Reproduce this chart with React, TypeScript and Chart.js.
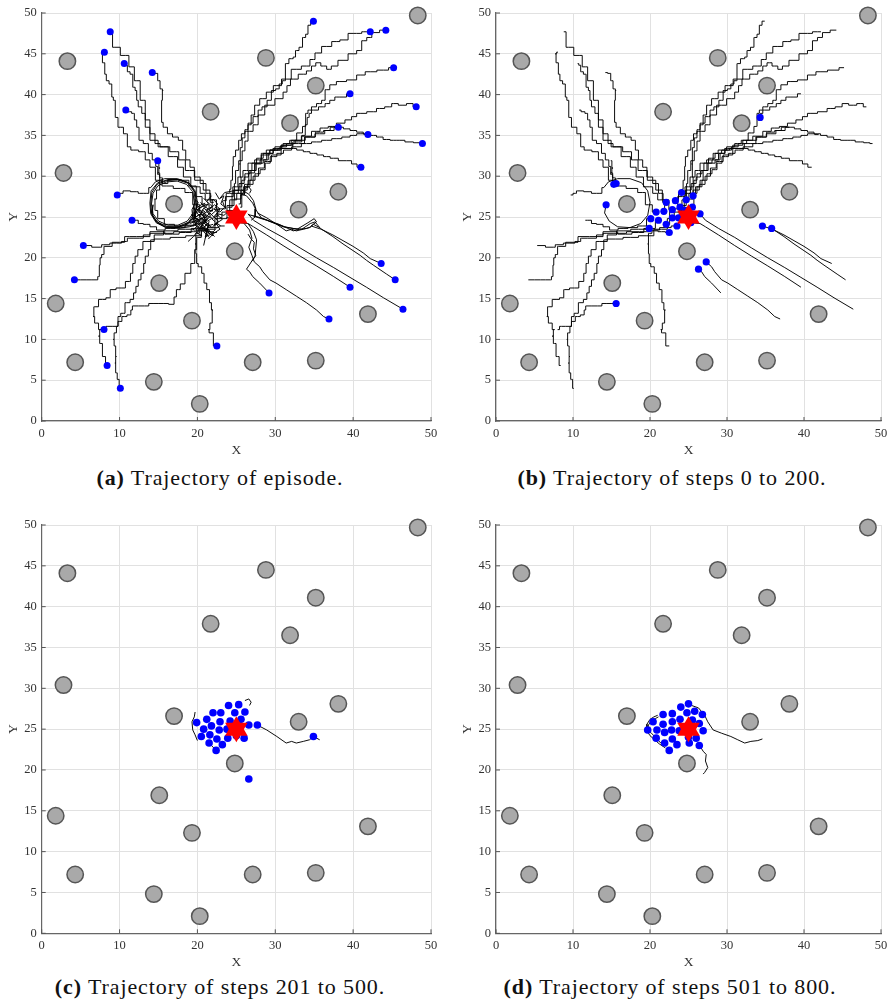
import React, { useEffect, useRef } from 'react';
import { Chart, registerables } from 'chart.js';

Chart.register(...registerables);

type Pt = [number, number];

// ---------- data ----------
const xTickValues = [0, 10, 20, 30, 40, 50];
const yTickValues = [0, 5, 10, 15, 20, 25, 30, 35, 40, 45, 50];
const goal: Pt = [25, 25];

const obstacles: Pt[] = [
  [48.3, 49.7], [3.3, 44.1], [28.8, 44.5], [21.7, 37.9], [35.2, 41.1], [31.9, 36.5],
  [2.8, 30.4], [38.1, 28.1], [17.0, 26.6], [33.0, 25.9], [24.8, 20.8], [15.1, 16.9],
  [1.8, 14.4], [19.3, 12.3], [41.9, 13.1], [4.3, 7.2], [27.1, 7.2], [35.2, 7.4],
  [14.4, 4.8], [20.3, 2.1],
];

const dotsStep0: Pt[] = [
  [8.8, 47.7], [8.05, 45.2], [10.6, 43.8], [14.2, 42.7], [10.8, 38.1], [14.9, 31.9],
  [9.7, 27.7], [11.6, 24.6], [5.35, 21.5], [34.9, 49.0], [42.2, 47.7], [44.2, 47.9],
  [45.2, 43.3], [39.6, 40.1], [48.1, 38.5], [38.1, 36.0], [41.9, 35.1], [48.9, 34.0],
  [41.0, 31.1], [4.2, 17.3], [8.0, 11.2], [8.4, 6.8], [10.1, 4.0], [22.5, 9.2],
  [29.2, 15.7], [36.9, 12.5], [39.6, 16.4], [43.6, 19.3], [45.4, 17.3], [46.4, 13.7],
];

const dotsStep200: Pt[] = [
  [34.3, 37.2], [15.3, 29.0], [15.6, 29.1], [14.3, 26.5], [34.6, 23.9], [35.8, 23.6],
  [27.3, 19.5], [26.3, 18.6], [15.6, 14.4],
  [22.1, 26.8], [23.3, 27.0], [24.1, 28.0], [24.7, 27.1], [25.6, 27.6], [23.9, 26.2],
  [25.5, 26.2], [20.8, 25.6], [21.8, 25.7], [22.9, 25.9], [22.9, 24.9], [23.7, 24.9],
  [20.1, 24.8], [21.1, 24.6], [26.5, 25.4], [19.9, 23.6], [22.1, 24.1], [23.5, 23.9],
  [22.5, 23.1], [25.3, 24.3], [24.6, 25.8],
];

const dotsStep500: Pt[] = [
  [24.0, 27.9], [25.3, 28.0], [22.0, 27.0], [23.0, 27.0], [24.8, 27.0], [26.1, 27.1],
  [19.9, 25.8], [21.2, 26.2], [22.9, 25.9], [24.2, 26.0], [25.6, 26.2], [26.6, 25.5],
  [27.7, 25.5], [20.8, 25.0], [21.8, 25.4], [22.8, 24.9], [23.8, 25.0], [20.5, 24.1],
  [21.6, 24.3], [22.5, 23.8], [23.9, 23.9], [26.0, 23.9], [21.5, 23.3], [23.2, 23.1],
  [22.4, 22.4], [34.9, 24.1], [26.6, 18.9], [25.0, 24.2], [25.2, 25.6],
];

const dotsStep800: Pt[] = [
  [25.0, 28.1], [24.0, 27.7], [21.7, 26.8], [22.9, 26.9], [24.8, 27.0], [25.8, 27.2],
  [26.8, 26.8], [20.4, 25.9], [21.7, 25.6], [22.9, 25.9], [23.9, 26.2], [25.5, 26.1],
  [26.4, 25.7], [19.7, 24.9], [20.9, 24.9], [21.9, 24.6], [22.8, 24.9], [23.8, 24.8],
  [26.9, 24.8], [20.8, 23.9], [21.9, 23.3], [22.9, 23.8], [23.5, 23.1], [25.1, 23.3],
  [26.0, 23.9], [26.4, 23.0], [22.5, 22.4], [24.8, 25.0], [25.0, 24.0],
];

// steps 0-200: staircase-like paths
const pathsStairs0to200: Pt[][] = [
  [[8.8, 47.7], [9.4, 45.8], [10.8, 44.8], [11.6, 43.4], [12.2, 41.7], [13.1, 39.3], [13.5, 36.9], [14.3, 34.4], [15.6, 33.6], [16.9, 32.4], [18.0, 31.1], [18.4, 29.9], [19.9, 28.7], [20.8, 27.9], [21.2, 27.1], [22.1, 26.8]],
  [[8.05, 45.2], [7.7, 45.0], [7.9, 43.9], [8.3, 42.5], [8.3, 41.7], [9.0, 41.3], [9.0, 39.7], [9.4, 39.3], [9.5, 37.2], [10.1, 36.0], [10.9, 35.2], [11.1, 33.6], [11.8, 33.2], [13.1, 33.0], [13.5, 32.0], [14.3, 31.1], [14.9, 29.5], [16.0, 28.8], [17.8, 28.5], [19.0, 28.0], [19.8, 26.5], [20.8, 25.6]],
  [[10.6, 43.8], [10.9, 43.6], [11.1, 42.8], [11.6, 42.5], [11.8, 40.9], [12.2, 40.5], [12.2, 39.3], [12.6, 38.5], [13.1, 37.7], [13.5, 36.0], [14.3, 35.2], [14.8, 34.0], [15.6, 33.6], [17.3, 33.0], [17.9, 32.0], [19.0, 30.7], [20.3, 29.5], [21.2, 28.3], [22.0, 27.1], [21.8, 25.7]],
  [[14.2, 42.7], [14.8, 42.6], [15.0, 41.7], [15.4, 40.7], [15.6, 40.5], [15.4, 39.3], [15.4, 36.6], [15.8, 36.0], [16.5, 35.2], [17.1, 34.8], [18.0, 34.4], [18.2, 33.2], [18.8, 32.0], [19.3, 31.1], [19.9, 29.9], [20.8, 29.1], [21.4, 27.9], [22.0, 27.1], [22.9, 25.9]],
  [[10.8, 38.1], [11.3, 37.9], [11.8, 37.7], [12.0, 36.9], [12.4, 36.0], [12.6, 34.4], [13.5, 34.0], [13.9, 32.8], [14.5, 32.0], [14.8, 31.2], [15.0, 30.2], [15.3, 29.0]],
  [[14.9, 31.9], [15.2, 31.0], [14.9, 30.4], [15.4, 29.8], [15.6, 29.1]],
  [[9.7, 27.7], [10.3, 27.9], [10.6, 28.2], [12.2, 28.1], [12.6, 27.9], [13.5, 27.9], [14.0, 28.6]],
  [[11.6, 24.6], [12.2, 24.6], [12.6, 24.2], [13.5, 24.1], [14.3, 23.8], [15.2, 23.4], [16.5, 23.6], [17.8, 23.7], [19.0, 23.9], [20.1, 24.8]],
  [[5.35, 21.5], [7.5, 21.3], [7.9, 21.6], [9.6, 21.8], [10.9, 22.0], [11.1, 22.4], [12.6, 22.4], [13.5, 22.8], [14.3, 23.0], [16.1, 23.0], [17.8, 23.2], [19.5, 23.2], [20.3, 23.6], [21.1, 24.6]],
  [[4.2, 17.3], [5.8, 17.3], [7.1, 17.3], [7.3, 17.7], [7.5, 19.1], [7.5, 20.0], [7.9, 20.4], [8.1, 21.4], [10.0, 21.9], [11.3, 22.6], [13.0, 22.6], [14.8, 23.2], [16.8, 22.9], [18.5, 23.1], [19.9, 23.6]],
  [[8.0, 11.2], [8.5, 11.6], [9.6, 11.6], [10.0, 12.2], [10.6, 12.8], [11.3, 13.0], [11.6, 13.6], [11.7, 14.1], [13.2, 14.1], [14.3, 14.4], [15.6, 14.4]],
  [[8.4, 6.8], [8.0, 7.9], [7.6, 9.5], [7.3, 10.4], [7.6, 11.2], [7.0, 12.0], [6.6, 12.8], [6.8, 14.0], [7.8, 14.9], [8.7, 15.1], [8.9, 16.1], [10.2, 16.3], [11.3, 17.1], [11.5, 18.1], [11.9, 19.3], [12.1, 20.2], [12.6, 21.0], [13.4, 22.0], [15.5, 22.3], [17.5, 22.5], [19.5, 22.7], [21.5, 23.5], [23.0, 24.8], [24.6, 25.8]],
  [[10.1, 4.0], [9.8, 5.1], [9.6, 5.9], [9.4, 7.1], [9.6, 7.9], [9.4, 9.2], [9.2, 10.0], [9.4, 10.8], [9.8, 11.6], [9.8, 12.8], [10.5, 13.2], [10.9, 14.5], [11.8, 14.9], [11.8, 15.7], [12.4, 16.5], [12.4, 17.3], [13.1, 18.1], [13.1, 19.3], [13.5, 20.2], [13.9, 21.0], [14.1, 22.2], [14.8, 22.8], [16.5, 23.3], [18.5, 23.5], [20.5, 23.4], [22.0, 23.7], [23.5, 23.9]],
  [[22.5, 9.2], [21.6, 10.8], [21.4, 11.2], [21.8, 12.0], [22.0, 13.6], [21.6, 14.5], [21.5, 16.1], [20.9, 16.9], [20.8, 18.1], [20.3, 18.9], [19.9, 19.3], [19.9, 20.5], [19.7, 21.7], [19.9, 23.0], [20.6, 23.3], [21.5, 23.2], [22.5, 23.1]],
  [[34.9, 49.0], [34.2, 48.5], [34.2, 47.4], [33.6, 47.0], [33.4, 45.8], [32.7, 45.4], [32.5, 44.6], [32.1, 44.4], [31.4, 43.8], [31.2, 41.7], [30.6, 41.3], [30.4, 40.7], [29.7, 40.5], [29.3, 39.3], [28.6, 38.5], [28.0, 38.1], [27.6, 37.3], [26.7, 36.5], [26.3, 35.7], [25.9, 35.2], [25.4, 34.4], [25.2, 33.2], [24.6, 32.4], [24.6, 31.2], [24.4, 29.5], [24.2, 28.4], [24.1, 28.0]],
  [[42.2, 47.7], [41.3, 47.7], [40.9, 47.5], [40.0, 47.5], [38.7, 46.7], [37.9, 46.5], [36.6, 45.9], [35.3, 45.1], [34.9, 44.3], [34.0, 43.5], [32.7, 43.1], [31.4, 41.9], [30.2, 41.1], [29.3, 40.3], [28.4, 39.5], [27.6, 38.7], [27.1, 37.5], [26.7, 36.3], [26.3, 35.5], [25.9, 34.7], [25.6, 33.5], [25.4, 31.5], [25.6, 29.9], [25.6, 27.6]],
  [[44.2, 47.9], [42.6, 47.6], [42.2, 47.0], [41.3, 46.6], [40.9, 45.4], [40.0, 45.0], [38.7, 44.2], [37.4, 43.5], [37.0, 43.1], [36.2, 43.5], [35.5, 43.9], [34.9, 43.5], [34.4, 42.9], [33.6, 42.5], [32.3, 41.9], [31.6, 41.1], [31.4, 40.3], [30.6, 39.5], [29.3, 38.7], [28.0, 37.5], [27.6, 36.3], [26.7, 35.5], [26.3, 34.3], [25.9, 33.1], [25.6, 31.9], [25.0, 30.7], [24.8, 29.1], [24.7, 27.1]],
  [[45.2, 43.3], [43.9, 43.0], [42.2, 42.8], [40.9, 42.4], [40.0, 41.8], [38.3, 41.6], [37.4, 41.2], [36.6, 40.6], [36.2, 39.3], [35.7, 38.9], [34.9, 38.5], [34.4, 38.1], [34.0, 37.7], [33.8, 36.1], [33.2, 35.3], [32.3, 34.4], [31.4, 34.0], [30.6, 33.6], [29.3, 33.2], [28.4, 32.8], [28.0, 32.0], [26.7, 31.6], [26.3, 30.7], [25.4, 29.9], [25.0, 28.7], [24.1, 27.9], [23.3, 27.0]],
  [[39.6, 40.1], [38.7, 39.7], [37.9, 39.7], [37.4, 39.3], [36.6, 38.9], [36.2, 38.5], [34.9, 38.1], [34.4, 37.7], [34.3, 37.2]],
  [[48.1, 38.5], [47.3, 38.9], [46.4, 38.7], [45.2, 38.9], [44.7, 38.5], [43.4, 38.3], [42.6, 37.9], [40.9, 37.7], [40.0, 37.3], [39.6, 36.9], [38.3, 36.5], [37.4, 36.1], [36.2, 35.9], [35.3, 35.5], [34.0, 34.9], [32.7, 34.4], [31.4, 33.8], [30.1, 33.4], [29.3, 32.8], [28.9, 32.0], [28.0, 31.6], [27.1, 30.7], [26.7, 29.5], [26.3, 28.7], [25.9, 27.9], [25.5, 26.2]],
  [[38.1, 36.0], [37.0, 35.6], [35.7, 35.2], [34.5, 34.8], [33.2, 34.4], [31.9, 34.0], [31.0, 33.6], [30.2, 33.2], [29.3, 32.8], [28.5, 32.0], [27.6, 31.6], [27.2, 30.7], [26.3, 30.3], [25.9, 29.5], [25.5, 28.7], [25.0, 27.9], [23.9, 26.2]],
  [[41.9, 35.1], [40.9, 35.2], [40.0, 35.0], [39.2, 34.8], [37.9, 34.6], [36.6, 34.4], [35.3, 34.2], [34.0, 34.0], [32.7, 33.6], [31.5, 33.2], [30.6, 32.8], [29.8, 32.4], [28.9, 31.6], [28.5, 30.8], [27.6, 30.3], [27.2, 29.5], [26.3, 28.7], [25.5, 27.9], [24.6, 27.1], [23.7, 24.9]],
  [[48.9, 34.0], [48.2, 34.1], [47.3, 34.2], [46.0, 34.4], [45.2, 34.4], [44.3, 34.5], [43.4, 34.8], [42.6, 35.0], [41.7, 35.2], [40.9, 35.4], [40.0, 35.6], [39.2, 35.8], [38.3, 36.0], [37.5, 36.0], [36.6, 35.6], [35.8, 35.4], [34.5, 34.8], [33.0, 34.0], [31.5, 33.4], [30.0, 32.6], [29.0, 31.8], [28.2, 31.0], [27.5, 30.0], [26.8, 29.0], [26.0, 28.3], [25.2, 27.2], [24.2, 26.4], [23.4, 25.6], [22.9, 24.9]],
  [[41.0, 31.1], [40.0, 31.5], [39.6, 31.9], [38.7, 31.9], [37.5, 32.2], [36.6, 32.4], [35.8, 32.6], [34.9, 32.8], [34.0, 33.0], [33.2, 33.2], [32.3, 33.4], [31.0, 33.4], [29.7, 33.2], [28.9, 32.8], [28.0, 32.2], [27.2, 31.6], [26.8, 30.7], [26.3, 29.9], [25.7, 29.1], [25.0, 28.3], [24.2, 27.5], [23.0, 26.0], [22.1, 24.1]],
];

// steps 0-200: smooth paths (lower right diagonals, loop round the obstacle)
const pathsSmooth0to200: Pt[][] = [
  [[14.0, 28.6], [14.6, 29.3], [15.8, 29.7], [17.4, 29.7], [18.9, 29.2], [19.7, 28.2], [20.0, 26.8], [19.7, 25.2], [18.8, 24.2], [17.4, 23.7], [15.8, 23.8], [14.7, 24.5], [14.1, 25.5], [14.3, 26.5]],
  [[29.2, 15.7], [28.0, 16.9], [27.1, 17.7], [26.7, 18.3], [26.3, 18.6]],
  [[36.9, 12.5], [36.2, 12.8], [35.3, 13.6], [34.0, 14.5], [32.7, 15.3], [31.4, 16.1], [30.1, 16.9], [29.3, 17.3], [28.4, 18.3], [28.0, 18.9], [27.3, 19.5]],
  [[39.6, 16.4], [37.5, 17.7], [35.3, 19.0], [33.2, 20.2], [31.0, 21.5], [28.9, 22.8], [27.2, 23.8], [26.5, 24.2], [25.3, 24.3]],
  [[43.6, 19.3], [42.2, 19.9], [41.3, 20.6], [40.0, 21.4], [38.7, 22.1], [37.4, 22.8], [35.9, 23.5], [34.6, 23.9]],
  [[45.4, 17.3], [44.3, 18.0], [42.6, 19.1], [41.7, 19.7], [40.9, 20.3], [38.7, 21.7], [37.4, 22.6], [35.8, 23.6]],
  [[46.4, 13.7], [43.9, 15.1], [41.7, 16.4], [39.6, 17.6], [37.5, 18.8], [35.3, 20.0], [33.2, 21.2], [31.0, 22.5], [28.9, 23.6], [27.2, 24.6], [26.5, 25.4]],
];

// after step 200, visible only in the full episode
const pathsStairsLater: Pt[][] = [
  [[15.3, 29.0], [15.0, 28.3], [14.5, 27.2], [14.6, 25.8], [15.2, 24.8], [16.3, 24.1], [17.8, 23.9], [19.2, 24.0], [20.4, 24.5], [21.5, 25.0]],
  [[15.6, 29.1], [16.8, 29.6], [18.3, 29.5], [19.5, 28.8], [20.2, 27.5], [21.0, 26.5], [22.0, 25.8]],
  [[34.3, 37.2], [33.9, 36.3], [33.8, 35.0], [33.0, 34.2], [31.5, 33.8], [30.0, 33.2], [28.6, 32.6], [27.8, 31.5], [26.9, 30.4], [26.3, 29.0], [25.8, 27.7], [25.3, 26.6]],
  [[15.6, 14.4], [17.0, 14.3], [17.0, 15.2], [17.6, 16.1], [18.0, 16.8], [18.8, 18.1], [19.5, 19.3], [19.8, 21.0], [20.0, 22.5], [21.0, 23.3]],
];

const pathsSmoothLater: Pt[][] = [
  [[14.3, 26.5], [14.2, 25.2], [14.8, 24.3], [16.0, 23.7], [17.6, 23.6], [19.0, 23.8], [20.0, 24.2], [21.2, 24.5]],
  [[26.3, 18.6], [27.4, 20.2], [27.6, 22.2], [27.2, 23.2], [26.5, 24.2]],
  [[27.3, 19.5], [27.0, 20.3], [26.6, 21.3], [27.0, 22.4], [26.7, 23.4], [26.0, 24.2]],
  [[34.6, 23.9], [35.3, 24.4], [35.0, 24.8], [34.2, 24.3], [32.8, 23.5], [31.2, 23.8], [29.5, 24.4], [27.8, 25.0], [26.5, 25.3]],
  [[35.8, 23.6], [35.1, 24.4], [34.5, 24.2], [33.4, 23.5], [32.3, 23.6], [31.0, 23.8], [28.9, 24.6], [27.2, 25.1]],
  [[14.1, 26.6], [14.3, 27.9], [14.9, 28.8], [16.0, 29.3], [17.4, 29.4], [18.6, 29.0], [19.4, 28.1], [19.6, 26.8], [19.4, 25.4], [18.7, 24.5], [17.5, 24.0], [16.2, 24.0], [15.0, 24.5], [14.3, 25.4], [14.1, 26.6]],
  [[14.0, 26.5], [14.15, 28.0], [14.8, 29.0], [16.0, 29.45], [17.45, 29.55], [18.75, 29.15], [19.55, 28.2], [19.75, 26.8], [19.55, 25.35], [18.85, 24.35], [17.55, 23.85], [16.1, 23.85], [14.9, 24.35], [14.15, 25.3], [14.0, 26.5]],
  [[13.9, 26.7], [14.05, 28.2], [14.9, 29.2], [16.3, 29.6], [17.8, 29.6], [19.0, 29.1], [19.7, 28.0], [19.9, 26.4], [19.6, 25.0], [18.7, 24.1], [17.3, 23.7], [15.9, 23.75], [14.7, 24.3], [14.0, 25.4], [13.9, 26.7]],
  [[19.6, 27.2], [20.1, 26.8], [19.8, 26.0], [20.6, 25.7], [20.2, 24.9], [21.0, 24.6], [20.5, 23.8], [21.3, 23.4], [21.0, 22.6], [21.8, 22.9], [22.4, 23.6]],
  [[21.8, 27.6], [21.2, 26.9], [21.9, 26.3], [21.1, 25.8], [21.7, 25.1], [20.9, 24.4], [21.6, 24.0], [20.8, 23.2], [21.5, 22.5]],
  [[20.0, 25.9], [20.8, 26.4], [21.5, 25.9], [22.2, 26.5], [22.9, 26.0], [22.5, 25.3], [23.2, 24.7], [22.4, 24.2], [22.9, 23.5], [22.1, 23.0], [21.4, 22.3]],
  [[19.3, 24.6], [20.2, 25.3], [21.2, 25.2], [22.0, 24.8], [22.6, 25.4], [23.4, 25.2], [24.0, 25.7]],
  [[22.3, 28.0], [22.8, 27.2], [23.4, 27.6], [23.0, 26.6], [23.7, 26.1]],
  [[19.5, 26.2], [19.9, 25.6], [19.6, 25.1], [20.1, 24.6], [19.7, 24.0], [20.3, 23.6], [20.0, 23.0], [20.6, 22.7]],
  [[20.4, 26.8], [20.9, 26.2], [20.5, 25.6], [21.1, 25.3], [20.6, 24.8], [21.3, 24.2], [20.8, 23.7], [21.5, 23.2], [21.0, 22.4]],
  [[19.2, 25.3], [19.8, 25.0], [20.4, 25.4], [21.0, 24.9], [21.6, 25.5], [22.2, 24.9], [22.8, 25.3]],
  [[19.4, 23.4], [20.0, 23.9], [20.7, 23.5], [21.2, 24.1], [21.9, 23.7], [22.4, 24.3], [23.0, 23.9]],
  [[20.8, 27.3], [21.4, 26.7], [20.9, 26.0], [21.6, 25.6], [22.1, 26.0], [22.6, 25.6], [22.1, 25.0], [22.7, 24.5], [22.2, 23.9]],
  [[19.0, 24.2], [19.6, 24.4], [20.0, 24.0], [20.8, 24.3], [21.3, 23.9], [22.0, 24.1]],
  [[22.0, 27.2], [22.6, 26.6], [22.2, 26.0], [22.9, 25.6], [23.5, 26.2], [23.2, 27.0]],
  [[19.8, 26.5], [20.3, 26.1], [20.0, 25.4], [20.5, 25.0], [20.1, 24.3], [20.6, 24.0], [20.3, 23.3]],
  [[20.6, 25.9], [21.0, 25.6], [20.7, 25.1], [21.3, 24.8], [20.9, 24.2], [21.4, 23.8], [21.1, 23.1]],
  [[19.7, 24.8], [20.3, 24.6], [20.8, 24.9], [21.3, 24.5], [21.8, 24.8], [22.3, 24.4]],
  [[20.2, 25.6], [20.7, 25.3], [21.3, 25.7], [21.8, 25.3], [22.4, 25.8]],
  [[21.2, 24.8], [19.5, 22.6], [18.8, 22.0]],
  [[21.0, 25.0], [19.6, 24.5], [18.5, 24.2]],
  [[21.5, 24.5], [20.8, 21.5]],
  [[22.9, 27.3], [23.5, 28.0], [24.6, 28.2], [25.7, 28.3], [26.6, 27.8], [27.2, 27.0], [27.5, 26.0], [27.4, 25.0], [26.9, 24.6]],
];

const paths201to500: Pt[][] = [
  [[27.7, 25.5], [28.9, 24.9], [30.2, 24.1], [31.4, 23.3], [32.1, 23.5], [32.7, 23.3], [33.6, 23.5], [34.4, 23.7], [34.9, 24.1], [35.7, 23.7]],
  [[19.7, 27.1], [19.6, 26.5], [19.3, 25.9], [19.4, 24.9], [19.7, 24.3], [20.0, 23.6]],
  [[26.1, 28.5], [26.6, 28.7], [26.9, 28.3], [26.7, 27.9]],
  [[21.3, 23.6], [21.8, 23.0], [22.2, 22.6]],
];

const paths501to800: Pt[][] = [
  [[21.1, 26.5], [20.7, 26.3], [20.2, 26.1], [19.8, 25.5], [19.7, 24.9], [20.2, 24.5], [20.8, 23.9], [21.4, 23.3], [22.1, 22.9]],
  [[21.0, 26.7], [20.5, 26.5], [20.0, 26.2], [19.6, 25.6], [19.6, 24.8], [20.0, 24.2], [20.6, 23.7], [21.2, 23.2], [22.0, 22.7]],
  [[25.4, 27.9], [26.3, 27.6], [27.1, 26.7], [27.5, 25.9], [28.2, 24.9], [29.3, 24.5], [30.5, 24.1], [31.4, 23.7], [32.3, 23.3], [33.1, 23.5], [34.0, 23.6], [34.6, 23.8]],
  [[26.5, 22.9], [26.9, 22.3], [27.3, 21.9], [27.2, 21.1], [27.5, 20.3], [27.1, 19.7], [26.9, 19.5]],
];

// ---------- rendering ----------
type Line = { pts: Pt[]; stairs: boolean };
const asLines = (paths: Pt[][], stairs: boolean): Line[] => paths.map((pts) => ({ pts, stairs }));

type PanelSpec = {
  left: number; top: number; w: number; h: number;
  padT: number; padR: number; yW: number; plotBottom: number; yTitlePad: number;
  lines: Line[]; dots: Pt[]; dotR: number;
};

const innerTicks = {
  id: 'innerTicks',
  afterDraw(chart: any) {
    const { ctx, chartArea, scales } = chart;
    ctx.save();
    ctx.strokeStyle = '#555';
    ctx.lineWidth = 1;
    xTickValues.forEach((v) => {
      const px = scales.x.getPixelForValue(v);
      ctx.beginPath();
      ctx.moveTo(px, chartArea.bottom);
      ctx.lineTo(px, chartArea.bottom - 4);
      ctx.stroke();
    });
    yTickValues.forEach((v) => {
      const py = scales.y.getPixelForValue(v);
      ctx.beginPath();
      ctx.moveTo(chartArea.left, py);
      ctx.lineTo(chartArea.left + 4, py);
      ctx.stroke();
    });
    ctx.restore();
  },
};

const serif = "'Liberation Serif', 'Times New Roman', serif";
const tickFont = { family: serif, size: 12.5 };
const titleFont = { family: serif, size: 13.5 };

function Panel({ spec }: { spec: PanelSpec }) {
  const ref = useRef<HTMLCanvasElement>(null);
  useEffect(() => {
    const toXY = (p: Pt) => ({ x: p[0], y: p[1] });
    const datasets: any[] = [];
    spec.lines.forEach((l) => {
      datasets.push({
        data: l.pts.map(toXY), showLine: true, borderColor: '#000', borderWidth: 0.95,
        pointRadius: 0, order: 3, fill: false, stepped: l.stairs ? 'middle' : false,
      });
    });
    datasets.push({
      data: obstacles.map(toXY), pointRadius: 8.2, pointBackgroundColor: '#a9a9a9',
      pointBorderColor: '#555', pointBorderWidth: 1.5, order: 2, clip: false,
    });
    datasets.push({
      data: spec.dots.map(toXY), pointRadius: spec.dotR, pointBackgroundColor: '#0000ff',
      pointBorderWidth: 0, order: 1, clip: false,
    });
    [0, 180].forEach((rot) => {
      datasets.push({
        data: [toXY(goal)], pointStyle: 'triangle', pointRotation: rot, pointRadius: 13,
        pointBackgroundColor: '#ff0000', pointBorderWidth: 0, order: 0, clip: false,
      });
    });
    const chart = new Chart(ref.current as HTMLCanvasElement, {
      type: 'scatter',
      data: { datasets },
      options: {
        responsive: false, animation: false, devicePixelRatio: 1, events: [],
        layout: { padding: { left: 0, right: spec.padR, top: spec.padT, bottom: 0 } },
        plugins: { legend: { display: false }, tooltip: { enabled: false } },
        scales: {
          x: {
            type: 'linear', min: 0, max: 50,
            afterBuildTicks: (s: any) => { s.ticks = xTickValues.map((v) => ({ value: v })); },
            ticks: { color: '#333', font: tickFont, padding: 5, maxRotation: 0, autoSkip: false },
            grid: { color: '#e1e1e1', lineWidth: 1, drawTicks: false },
            border: { display: true, color: '#666', width: 1.2 },
            title: { display: true, text: 'X', color: '#333', font: titleFont, padding: { top: 0, bottom: 1 } },
            afterFit: (s: any) => { s.height = spec.h - spec.plotBottom; },
          },
          y: {
            type: 'linear', min: 0, max: 50,
            afterBuildTicks: (s: any) => { s.ticks = yTickValues.map((v) => ({ value: v })); },
            ticks: { color: '#333', font: tickFont, padding: 5, autoSkip: false },
            grid: { color: '#e1e1e1', lineWidth: 1, drawTicks: false },
            border: { display: true, color: '#666', width: 1.2 },
            title: { display: true, text: 'Y', color: '#333', font: titleFont, padding: { top: spec.yTitlePad, bottom: 0 } },
            afterFit: (s: any) => { s.width = spec.yW; },
          },
        },
      } as any,
      plugins: [innerTicks],
    });
    return () => chart.destroy();
  }, []);
  return (
    <canvas
      ref={ref}
      width={spec.w}
      height={spec.h}
      style={{ position: 'absolute', left: spec.left, top: spec.top, width: spec.w, height: spec.h }}
    />
  );
}

const captionFont = 22;
function Caption({ cx, baseline, tag, text }: { cx: number; baseline: number; tag: string; text: string }) {
  return (
    <div
      style={{
        position: 'absolute', left: cx - 220, width: 440, top: baseline - 0.8375 * captionFont,
        textAlign: 'center', fontFamily: "'Liberation Serif', serif", fontSize: captionFont, lineHeight: `${captionFont}px`,
        letterSpacing: '0.9px', color: '#111', whiteSpace: 'nowrap',
      }}
    >
      <b>{tag}</b> {text}
    </div>
  );
}

export default function App() {
  const first: Line[] = [...asLines(pathsStairs0to200, true), ...asLines(pathsSmooth0to200, false)];
  const allLines: Line[] = [
    ...first,
    ...asLines(pathsStairsLater, true),
    ...asLines(pathsSmoothLater, false),
    ...asLines(paths201to500, false),
    ...asLines(paths501to800, false),
  ];
  const panels: PanelSpec[] = [
    { left: 0, top: 0, w: 447, h: 460, padT: 12.3, padR: 16, yW: 41.7, plotBottom: 421, yTitlePad: 5, lines: allLines, dots: dotsStep0, dotR: 3.5 },
    { left: 447, top: 0, w: 447, h: 460, padT: 12.3, padR: 9.3, yW: 49, plotBottom: 421, yTitlePad: 12, lines: first, dots: dotsStep200, dotR: 3.6 },
    { left: 0, top: 512, w: 447, h: 460, padT: 12.5, padR: 16, yW: 41.7, plotBottom: 421.3, yTitlePad: 5, lines: asLines(paths201to500, false), dots: dotsStep500, dotR: 3.8 },
    { left: 447, top: 512, w: 447, h: 460, padT: 12.5, padR: 9.3, yW: 49, plotBottom: 421.3, yTitlePad: 12, lines: asLines(paths501to800, false), dots: dotsStep800, dotR: 3.8 },
  ];
  return (
    <div style={{ position: 'absolute', left: 0, top: 0, width: 894, height: 1001, background: '#fff', overflow: 'hidden' }}>
      {panels.map((p, i) => <Panel key={i} spec={p} />)}
      <Caption cx={220} baseline={485} tag="(a)" text="Trajectory of episode." />
      <Caption cx={672} baseline={485} tag="(b)" text="Trajectory of steps 0 to 200." />
      <Caption cx={220} baseline={994} tag="(c)" text="Trajectory of steps 201 to 500." />
      <Caption cx={670} baseline={994} tag="(d)" text="Trajectory of steps 501 to 800." />
    </div>
  );
}
